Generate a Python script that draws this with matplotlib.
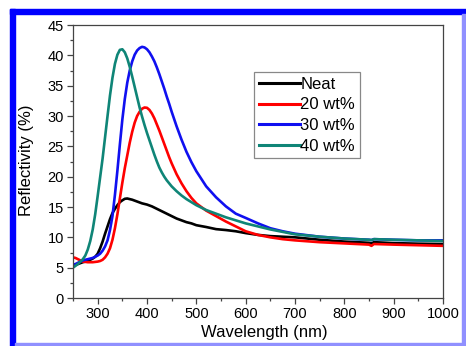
import numpy as np
import matplotlib.pyplot as plt
from matplotlib.patches import Rectangle
from matplotlib.ticker import MultipleLocator

plt.rcParams['font.family'] = ['Liberation Sans', 'DejaVu Sans']

#Wavelength grid (nm) shared by all four spectra, finer around the peaks
wavelength = [250, 255, 260, 265, 270, 275, 280, 285, 290, 295,
			  300, 305, 310, 315, 320, 325, 330, 335, 340, 345,
			  350, 355, 360, 365, 370, 375, 380, 385, 390, 395,
			  400, 405, 410, 415, 420, 425, 430, 435, 440, 445,
			  450, 460, 470, 480, 490, 500, 520, 540, 560, 580,
			  600, 625, 650, 675, 700, 750, 800, 850, 855, 860, 900, 950, 1000]

#Reflectivity (%)
neat = [5.3, 5.45, 5.6, 5.75, 5.9, 6.0, 6.1, 6.3, 6.5, 6.8,
		7.3, 8.2, 9.3, 10.6, 11.8, 13.0, 14.0, 14.7, 15.3, 15.8,
		16.1, 16.35, 16.4, 16.3, 16.2, 16.05, 15.9, 15.75, 15.6, 15.5,
		15.4, 15.25, 15.1, 14.9, 14.7, 14.5, 14.3, 14.1, 13.9, 13.7,
		13.5, 13.1, 12.8, 12.5, 12.3, 12.0, 11.7, 11.35, 11.2, 11.0,
		10.7, 10.4, 10.2, 10.1, 10.0, 9.6, 9.3, 9.1, 9.0, 9.2, 9.05, 8.95, 8.9]

wt20 = [6.7, 6.6, 6.4, 6.2, 6.0, 5.95, 5.9, 5.9, 5.9, 5.95,
		6.0, 6.1, 6.3, 6.7, 7.3, 8.2, 9.6, 11.5, 13.8, 16.4,
		19.0, 21.4, 23.5, 25.6, 27.4, 28.9, 30.0, 30.7, 31.2, 31.4,
		31.35, 31.0, 30.4, 29.6, 28.6, 27.6, 26.5, 25.4, 24.3, 23.2,
		22.2, 20.4, 18.9, 17.6, 16.5, 15.6, 14.4, 13.5, 12.6, 11.8,
		11.0, 10.4, 10.0, 9.7, 9.5, 9.2, 9.0, 8.8, 8.6, 8.9, 8.8, 8.7, 8.6]

wt30 = [5.5, 5.6, 5.8, 6.0, 6.2, 6.3, 6.4, 6.5, 6.6, 6.8,
		7.0, 7.3, 7.8, 8.5, 9.5, 11.2, 13.5, 17.0, 21.0, 25.3,
		29.4, 32.8, 35.5, 37.5, 39.0, 40.1, 40.8, 41.2, 41.4, 41.3,
		41.0, 40.5, 39.8, 39.0, 38.0, 36.9, 35.7, 34.5, 33.2, 32.0,
		30.7, 28.3, 26.1, 24.1, 22.4, 20.9, 18.4, 16.6, 15.1, 13.9,
		13.2, 12.3, 11.5, 11.0, 10.6, 10.1, 9.8, 9.6, 9.55, 9.7, 9.6, 9.5, 9.5]

wt40 = [5.0, 5.3, 5.6, 6.0, 6.4, 7.0, 8.0, 9.4, 11.3, 13.8,
		16.8, 19.9, 23.0, 26.5, 30.0, 33.4, 36.3, 38.6, 40.1, 40.9,
		41.0, 40.5, 39.5, 38.1, 36.5, 34.8, 33.1, 31.4, 29.9, 28.5,
		27.2, 26.0, 24.8, 23.6, 22.5, 21.5, 20.7, 20.0, 19.4, 18.9,
		18.4, 17.6, 16.9, 16.3, 15.8, 15.3, 14.5, 13.9, 13.3, 12.8,
		12.3, 11.8, 11.3, 10.9, 10.5, 10.1, 9.8, 9.6, 9.55, 9.7, 9.6, 9.5, 9.4]

labels = ['Neat', '20 wt%', '30 wt%', '40 wt%']
colours = ['black', '#ff0000', '#1010f0', '#0f8577']

fig = plt.figure(figsize=(4.66, 3.46), dpi=100)
ax = fig.add_axes([73/466, 48/346, 370/466, 273/346])

for series, lab, col in zip([neat, wt20, wt30, wt40], labels, colours):
	ax.plot(wavelength, series, color=col, lw=1.9, label=lab)

ax.set_xlim(250, 1000)
ax.set_ylim(0, 45)
ax.xaxis.set_minor_locator(MultipleLocator(50))
ax.yaxis.set_major_locator(MultipleLocator(5))
ax.yaxis.set_minor_locator(MultipleLocator(2.5))
ax.set_xticks([300, 400, 500, 600, 700, 800, 900, 1000])
ax.tick_params(which='both', direction='out', top=False, right=False, labelsize=10.5,
			   color='#444444', width=0.9, pad=2)
ax.tick_params(which='major', length=4.5)
ax.tick_params(which='minor', length=2.5)
for sp in ax.spines.values():
	sp.set_color('#444444')
	sp.set_linewidth(0.9)

fig.text(264.5/466, 1 - 332/346, 'Wavelength (nm)', ha='center', va='center', fontsize=12)
fig.text(27/466, 1 - 160/346, 'Reflectivity (%)', ha='center', va='center', rotation=90, fontsize=12)

leg = ax.legend(loc='upper left', bbox_to_anchor=(254/466, 1 - 72/346), bbox_transform=fig.transFigure,
				borderaxespad=0, fontsize=12, handlelength=2.45, handletextpad=0.05,
				labelspacing=0.34, borderpad=0.28, fancybox=False, framealpha=1)
leg.get_frame().set_edgecolor('#888888')
leg.get_frame().set_linewidth(0.9)
for h in leg.get_lines():
	h.set_linewidth(2.2)

#Blue frame around the picture
fig.patches.append(Rectangle((10/466, 1 - 14/346), 456/466, 5/346, transform=fig.transFigure, color='#0000ff'))
fig.patches.append(Rectangle((10/466, 0), 5/466, 337/346, transform=fig.transFigure, color='#0000ff'))
fig.patches.append(Rectangle((462/466, 0), 4/466, 332/346, transform=fig.transFigure, color='#9090ff'))
fig.patches.append(Rectangle((15/466, 0), 451/466, 3/346, transform=fig.transFigure, color='#9090ff'))

fig.savefig('out.png', dpi=100)
